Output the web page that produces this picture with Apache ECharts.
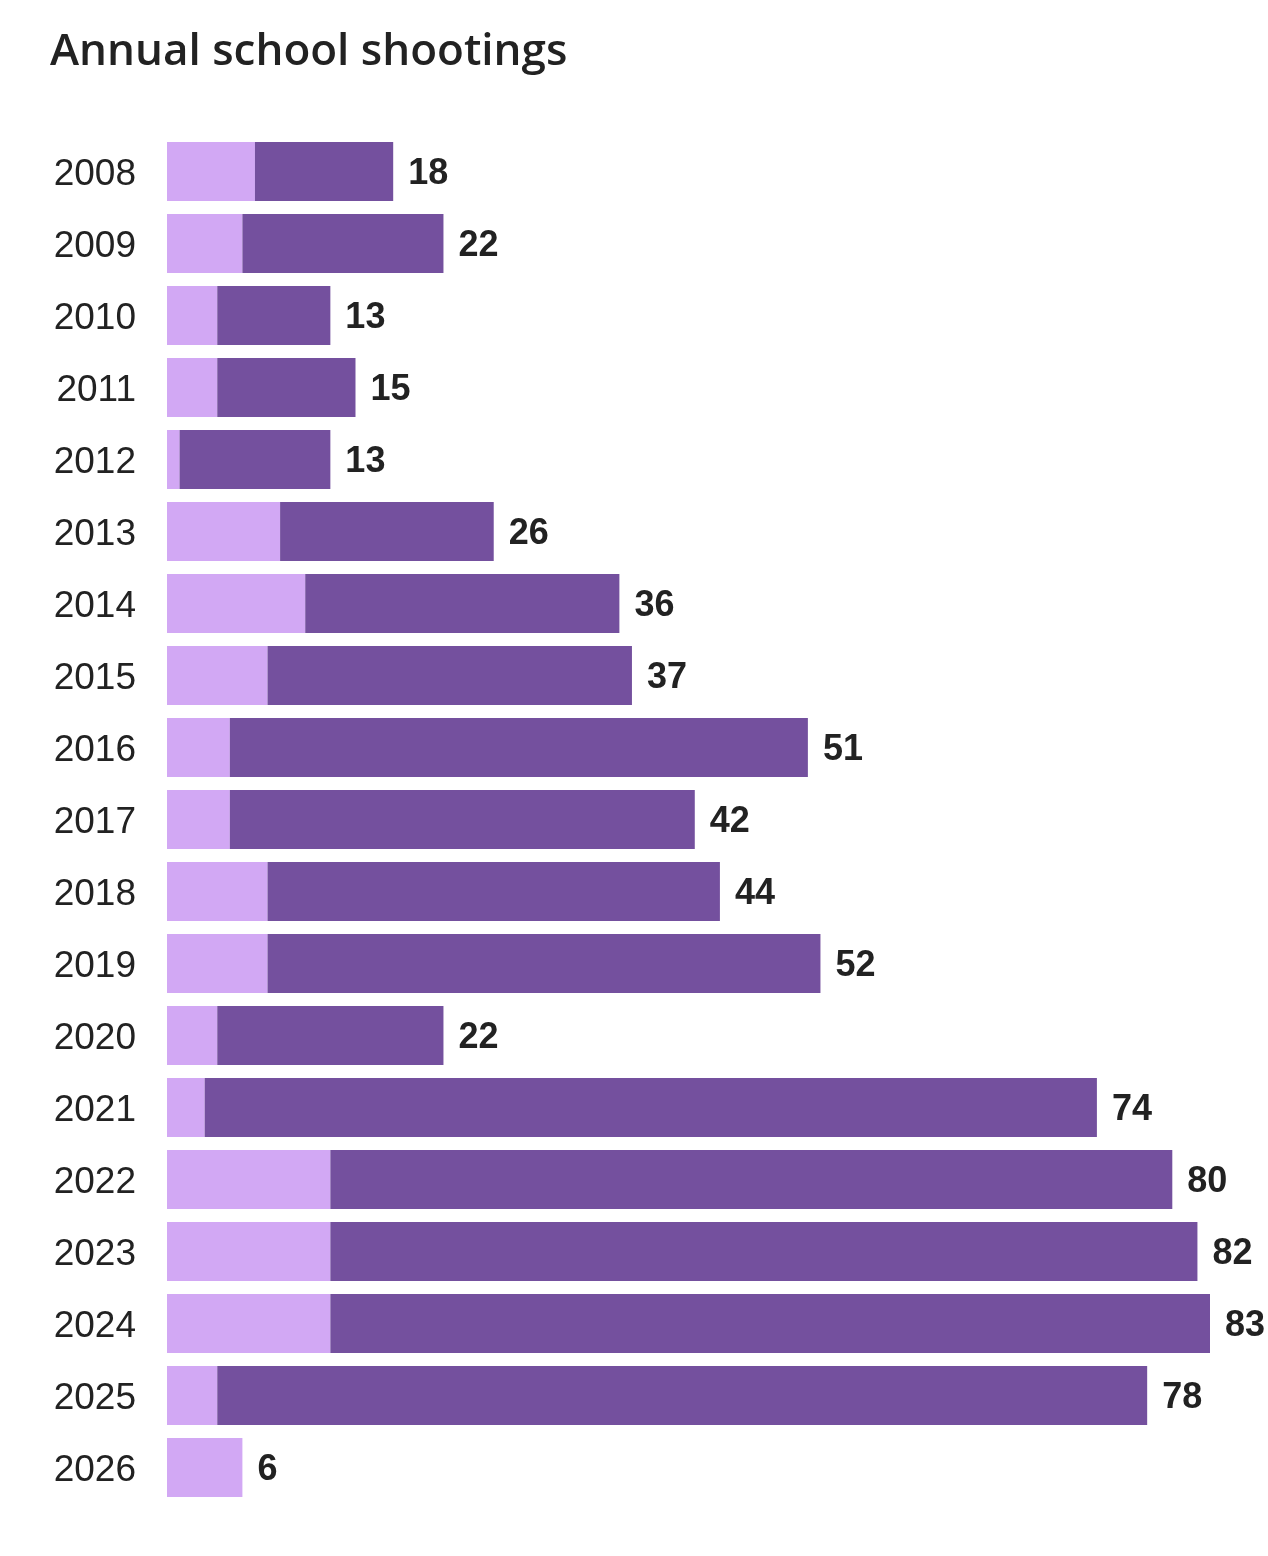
<!DOCTYPE html>
<html>
<head>
<meta charset="utf-8">
<script src="https://cdn.jsdelivr.net/npm/echarts@6/dist/echarts.min.js"></script>
<style>
html,body{margin:0;padding:0;background:#fff;}
#chart{width:1268px;height:1556px;}
</style>
</head>
<body>
<div id="chart"></div>
<script>
const years = ['2008','2009','2010','2011','2012','2013','2014','2015','2016','2017','2018','2019','2020','2021','2022','2023','2024','2025','2026'];
const totals = [18,22,13,15,13,26,36,37,51,42,44,52,22,74,80,82,83,78,6];
const lightPart = [7,6,4,4,1,9,11,8,5,5,8,8,4,3,13,13,13,4,6];
const darkPart = totals.map((t,i)=>t-lightPart[i]);

const chart = echarts.init(document.getElementById('chart'));
const textColor = '#222222';
chart.setOption({
  backgroundColor:'#ffffff',
  animation:false,
  title:{
    text:'Annual school shootings',
    left:45, top:25,
    textStyle:{fontFamily:'Open Sans',fontSize:44,fontWeight:600,color:textColor}
  },
  grid:{left:167, right:58, top:135.5, bottom:52.5, containLabel:false},
  xAxis:{type:'value', min:0, max:83, show:false},
  yAxis:{
    type:'category', data:years, inverse:true,
    axisLine:{show:false}, axisTick:{show:false}, splitLine:{show:false},
    axisLabel:{margin:31, fontFamily:'Liberation Sans', fontSize:37, color:textColor,
      formatter:(v)=>'{y|'+v+'}',
      rich:{y:{fontFamily:'Liberation Sans', fontSize:37, color:textColor, padding:[6,0,0,0]}}}
  },
  series:[
    {type:'bar', stack:'s', data:lightPart, barCategoryGap:'18%', itemStyle:{color:'#D2A8F4'}},
    {type:'bar', stack:'s', data:darkPart, itemStyle:{color:'#74509E'}},
    {type:'bar', stack:'s', data:totals.map(()=>0), itemStyle:{color:'rgba(0,0,0,0)'},
     label:{show:true, position:'right', distance:15, offset:[0,3], fontFamily:'Liberation Sans', fontSize:36, fontWeight:'bold', color:textColor,
       formatter:(p)=>String(totals[p.dataIndex])}}
  ]
});
</script>
</body>
</html>
